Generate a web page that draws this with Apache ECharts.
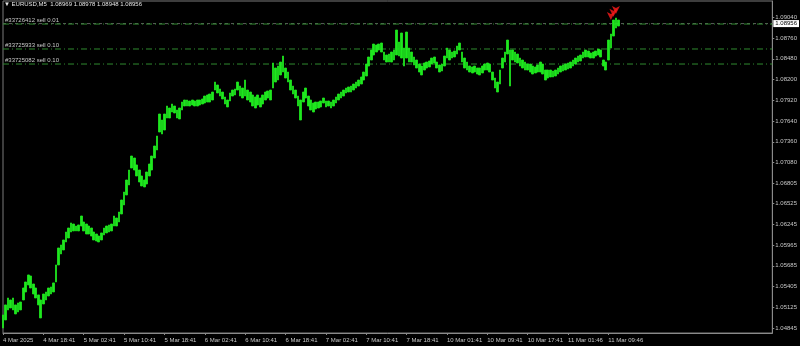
<!DOCTYPE html>
<html>
<head>
<meta charset="utf-8">
<script src="https://cdn.jsdelivr.net/npm/echarts@6/dist/echarts.min.js"></script>
<style>
html,body{margin:0;padding:0;background:#000;}
#chart{width:800px;height:346px;}
</style>
</head>
<body>
<div id="chart"></div>
<script>
// ---- data ----
const xTickLabels = ["4 Mar 2025","4 Mar 18:41","5 Mar 02:41","5 Mar 10:41","5 Mar 18:41","6 Mar 02:41","6 Mar 10:41","6 Mar 18:41","7 Mar 02:41","7 Mar 10:41","7 Mar 18:41","10 Mar 01:41","10 Mar 09:41","10 Mar 17:41","11 Mar 01:46","11 Mar 09:46"];
const yTickValues = [1.04845,1.05125,1.05405,1.05685,1.05965,1.06245,1.06525,1.06805,1.07080,1.07360,1.07640,1.07920,1.08200,1.08480,1.08760,1.09040];
const header = "\u25BC EURUSD,M5  1.08969 1.08978 1.08948 1.08956";
const bidPrice = 1.08956;
const orderNames = ["#33726412 sell 0.01","#33725933 sell 0.10","#33725082 sell 0.10"];
const orderPrices = [1.08950,1.08613,1.08410];
const sellMarkIdx = [241,242,243];
const sellMarkPrice = [1.09005,1.09050,1.09085];

const highs = [
1.05022,1.05157,1.05251,1.05224,1.05251,1.05157,1.05184,1.05197,1.05386,1.05467,
1.05562,1.05548,1.05440,1.05386,1.05292,1.05224,1.05305,1.05332,1.05386,1.05400,
1.05454,1.05697,1.05926,1.05967,1.06034,1.06142,1.06196,1.06264,1.06250,1.06223,
1.06237,1.06358,1.06277,1.06250,1.06223,1.06196,1.06142,1.06115,1.06088,1.06129,
1.06196,1.06223,1.06237,1.06250,1.06358,1.06331,1.06412,1.06574,1.06682,1.06844,
1.06979,1.07168,1.07141,1.07047,1.06979,1.06898,1.06844,1.06952,1.07060,1.07168,
1.07303,1.07438,1.07735,1.07654,1.07735,1.07843,1.07816,1.07870,1.07843,1.07789,
1.07816,1.07897,1.07924,1.07924,1.07911,1.07924,1.07911,1.07924,1.07924,1.07938,
1.07978,1.07992,1.08005,1.08032,1.08167,1.08127,1.08073,1.08032,1.07965,1.07924,
1.08019,1.08059,1.08073,1.08167,1.08113,1.08086,1.08194,1.08059,1.08032,1.07992,
1.07965,1.07992,1.07951,1.07992,1.08032,1.08046,1.08059,1.08424,1.08356,1.08383,
1.08437,1.08518,1.08356,1.08302,1.08194,1.08113,1.08059,1.07978,1.07924,1.08032,
1.08086,1.07978,1.07924,1.07884,1.07897,1.07897,1.07911,1.07951,1.07911,1.07911,
1.07897,1.07924,1.07965,1.08005,1.08032,1.08059,1.08086,1.08100,1.08113,1.08140,
1.08167,1.08194,1.08235,1.08302,1.08410,1.08505,1.08599,1.08680,1.08667,1.08680,
1.08694,1.08572,1.08532,1.08545,1.08572,1.08599,1.08869,1.08707,1.08829,1.08626,
1.08842,1.08626,1.08572,1.08505,1.08464,1.08410,1.08383,1.08424,1.08437,1.08451,
1.08491,1.08505,1.08437,1.08397,1.08410,1.08518,1.08626,1.08599,1.08572,1.08586,
1.08653,1.08694,1.08572,1.08491,1.08437,1.08383,1.08370,1.08383,1.08356,1.08356,
1.08383,1.08410,1.08424,1.08410,1.08302,1.08221,1.08167,1.08329,1.08491,1.08572,
1.08734,1.08599,1.08599,1.08572,1.08545,1.08491,1.08464,1.08437,1.08410,1.08410,
1.08383,1.08370,1.08397,1.08437,1.08410,1.08329,1.08329,1.08329,1.08316,1.08329,
1.08356,1.08383,1.08397,1.08410,1.08424,1.08437,1.08464,1.08491,1.08518,1.08532,
1.08572,1.08599,1.08586,1.08559,1.08572,1.08586,1.08613,1.08599,1.08464,1.08437,
1.08734,1.08815,1.09004,1.09031,1.09004
];
const lows = [
1.04846,1.04954,1.05089,1.05116,1.05089,1.05035,1.05062,1.05089,1.05224,1.05332,
1.05427,1.05386,1.05305,1.05251,1.05157,1.04981,1.05170,1.05224,1.05278,1.05305,
1.05332,1.05467,1.05697,1.05845,1.05899,1.06007,1.06061,1.06142,1.06156,1.06156,
1.06156,1.06223,1.06156,1.06115,1.06115,1.06088,1.06034,1.06021,1.06007,1.06034,
1.06102,1.06129,1.06142,1.06156,1.06223,1.06223,1.06277,1.06385,1.06507,1.06642,
1.06777,1.07006,1.06979,1.06898,1.06817,1.06763,1.06750,1.06790,1.06898,1.06979,
1.07141,1.07249,1.07492,1.07465,1.07519,1.07681,1.07681,1.07762,1.07749,1.07681,
1.07668,1.07789,1.07843,1.07843,1.07843,1.07857,1.07843,1.07843,1.07857,1.07870,
1.07884,1.07897,1.07897,1.07924,1.08059,1.08019,1.07978,1.07938,1.07870,1.07830,
1.07911,1.07978,1.07992,1.08059,1.07978,1.07951,1.07978,1.07924,1.07897,1.07843,
1.07816,1.07857,1.07830,1.07870,1.07924,1.07951,1.07924,1.08086,1.08167,1.08194,
1.08262,1.08302,1.08221,1.08167,1.08059,1.08005,1.07951,1.07843,1.07654,1.07897,
1.07951,1.07843,1.07789,1.07762,1.07803,1.07816,1.07830,1.07884,1.07830,1.07843,
1.07816,1.07843,1.07884,1.07924,1.07951,1.07978,1.08019,1.08032,1.08032,1.08059,
1.08086,1.08113,1.08140,1.08194,1.08248,1.08383,1.08464,1.08532,1.08572,1.08599,
1.08572,1.08464,1.08437,1.08437,1.08437,1.08464,1.08532,1.08518,1.08491,1.08383,
1.08491,1.08437,1.08437,1.08397,1.08356,1.08302,1.08262,1.08329,1.08356,1.08370,
1.08410,1.08424,1.08356,1.08302,1.08316,1.08383,1.08491,1.08464,1.08491,1.08505,
1.08545,1.08599,1.08437,1.08356,1.08329,1.08302,1.08289,1.08302,1.08275,1.08262,
1.08289,1.08329,1.08329,1.08302,1.08194,1.08086,1.08032,1.08140,1.08356,1.08437,
1.08545,1.08113,1.08464,1.08437,1.08424,1.08383,1.08356,1.08329,1.08329,1.08302,
1.08275,1.08289,1.08302,1.08302,1.08275,1.08194,1.08221,1.08235,1.08235,1.08248,
1.08275,1.08302,1.08316,1.08329,1.08343,1.08356,1.08383,1.08410,1.08437,1.08451,
1.08491,1.08505,1.08505,1.08491,1.08491,1.08518,1.08532,1.08505,1.08383,1.08329,
1.08464,1.08626,1.08788,1.08896,1.08923
];
const totalSlots = 306;   // time slots on the axis (30 min each)
const slotsPerLabel = 16;

// ---- build ----
const categories = [];
for (let i = 0; i < totalSlots; i++) {
  categories.push(i % slotsPerLabel === 0 && xTickLabels[i / slotsPerLabel] ? xTickLabels[i / slotsPerLabel] : '');
}
const bars = lows.map((l, i) => [l, highs[i], l, highs[i]]);
const fontFam = '"Liberation Sans", "DejaVu Sans", sans-serif';
const txtCol = '#c8c8c8';
const showIdx = (i, v) => v !== '';

const levelSeries = orderPrices.map((p, i) => ({
  type: 'line', silent: true, symbol: 'none', z: 3,
  data: [[0, p], [totalSlots - 1, p]],
  lineStyle: { color: '#2f8a2f', width: 1, type: [6, 3, 1, 3] },
  markPoint: {
    symbol: 'circle', symbolSize: 0,
    data: [{ coord: [0, p], value: orderNames[i] }],
    label: { show: true, position: 'right', offset: [-3, -4], formatter: orderNames[i], color: txtCol, fontSize: 6, fontFamily: fontFam }
  }
}));
levelSeries.push({
  type: 'line', silent: true, symbol: 'none', z: 2,
  data: [[0, bidPrice], [totalSlots - 1, bidPrice]],
  lineStyle: { color: '#5e5e5e', width: 1, type: [3, 3] },
  endLabel: {
    show: true, distance: 1, formatter: () => bidPrice.toFixed(5),
    color: '#000', backgroundColor: '#fff', padding: [1, 2, 0, 2], fontSize: 6, fontFamily: fontFam
  }
});

const chart = echarts.init(document.getElementById('chart'), null, { renderer: 'canvas' });
chart.setOption({
  backgroundColor: '#000',
  animation: false,
  title: {
    text: header, left: 4, top: 1, padding: 0,
    textStyle: { color: '#e6e6e6', fontSize: 6, fontWeight: 'normal', fontFamily: fontFam }
  },
  grid: { left: 2, right: 27, top: 1, bottom: 13, show: true, borderColor: '#7a7a7a', borderWidth: 1, backgroundColor: '#000' },
  xAxis: {
    type: 'category', data: categories, boundaryGap: false,
    axisLine: { show: true, lineStyle: { color: '#8a8a8a' } },
    axisTick: { show: true, interval: showIdx, length: 2, lineStyle: { color: '#8a8a8a' } },
    axisLabel: { interval: showIdx, align: 'left', color: txtCol, fontSize: 6, fontFamily: fontFam, margin: 4 },
    splitLine: { show: false }
  },
  yAxis: {
    type: 'value', position: 'right', min: 1.04778, max: 1.09261, scale: true,
    axisLine: { show: true, lineStyle: { color: '#8a8a8a' } },
    axisTick: { show: true, customValues: yTickValues, length: 2, lineStyle: { color: '#8a8a8a' } },
    axisLabel: { customValues: yTickValues, formatter: v => v.toFixed(5), color: txtCol, fontSize: 6, fontFamily: fontFam, margin: 3 },
    splitLine: { show: false }
  },
  series: [
    ...levelSeries,
    {
      type: 'candlestick', data: bars, barWidth: 2.2, z: 4,
      itemStyle: { color: '#1ee81e', color0: '#1ee81e', borderColor: '#1ee81e', borderColor0: '#1ee81e', borderWidth: 0.8 }
    },
    {
      type: 'scatter', symbol: 'arrow', symbolSize: [6, 8], symbolRotate: 180,
      data: sellMarkIdx.map((x, i) => [x, sellMarkPrice[i]]),
      itemStyle: { color: '#ff1a1a' }, z: 5
    }
  ]
});
</script>
</body>
</html>
